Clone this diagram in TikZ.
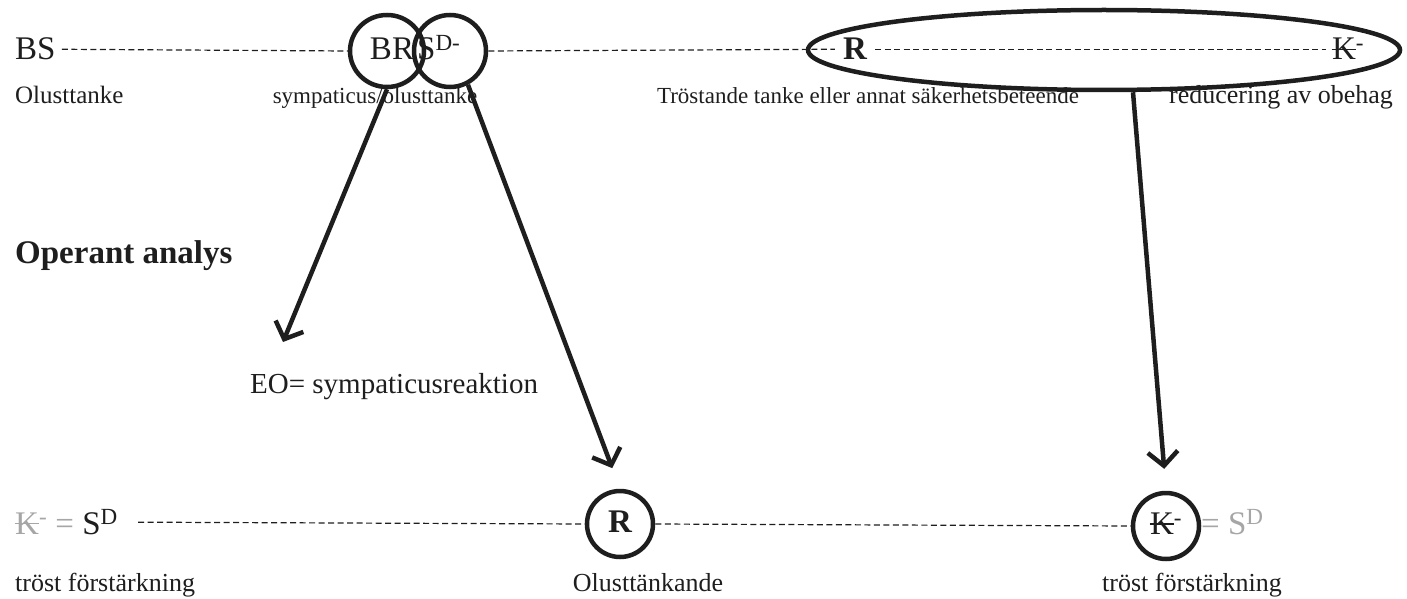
\documentclass[tikz,border=0pt]{standalone}
\usepackage{fontspec}
\setmainfont{Liberation Serif}
\usepackage{xcolor}
\usetikzlibrary{shapes.geometric, arrows.meta, positioning, calc}
\definecolor{inkdark}{HTML}{1E1E1E}
\definecolor{fadegray}{HTML}{A6A6A6}
\newcommand{\strikeK}{\ooalign{K\cr\hidewidth\rule[0.3em]{0.75em}{0.045em}\hidewidth\cr}\textsuperscript{-}}

\tikzset{
  ring/.style={draw=inkdark, line width=4.5pt, ellipse, inner sep=0pt},
  chain/.style={draw=inkdark, line width=1.2pt, dash pattern=on 6pt off 3.5pt},
  pointer/.style={draw=inkdark, line width=4.5pt, -{Straight Barb[length=14pt,width=30pt]}},
  bigtxt/.style={font=\fontsize{33}{37}\selectfont, text=inkdark, inner sep=0pt},
  smalltxt/.style={font=\fontsize{23}{27}\selectfont, text=inkdark, inner sep=0pt},
}

\begin{document}
\begin{tikzpicture}[x=1pt, y=-1pt]
    \useasboundingbox (0,0) rectangle (1407,599);

    % Top row
    \node[bigtxt, anchor=base west] (bs) at (15,60) {BS};
    \node[ring, minimum width=74pt, minimum height=72pt] (brring) at (387,51) {};
    \node[ring, minimum width=72pt, minimum height=72pt] (sdring) at (450,51) {};
    \node[bigtxt, anchor=base] (br) at (392,60) {BR};
    \node[bigtxt, anchor=base west] (sd) at (417,60) {S\textsuperscript{D-}};
    \node[ring, minimum width=592pt, minimum height=80pt] (bigell) at (1104,50) {};
    \node[bigtxt, anchor=base, font=\fontsize{33}{37}\bfseries] (rtop) at (855,60) {R};
    \node[bigtxt, anchor=base] (ktop) at (1348,60) {\strikeK};

    \draw[chain, shorten <=6pt] (bs.east) -- (brring.west);
    \draw[chain, shorten >=8pt] (sdring.east) -- (rtop.west);
    \draw[chain, shorten <=8pt, shorten >=6pt] (rtop.east) -- (ktop.west);

    % Top labels
    \node[smalltxt, anchor=base west, font=\fontsize{25}{29}\selectfont] (lbs) at (15,103) {Olusttanke};
    \node[smalltxt, anchor=base] (lbrsd) at (375,103) {sympaticus/olusttanke};
    \node[smalltxt, anchor=base] (lrtop) at (868,103) {Tröstande tanke eller annat säkerhetsbeteende};
    \node[smalltxt, anchor=base, font=\fontsize{26}{30}\selectfont] (lktop) at (1281,103) {reducering av obehag};

    \node[font=\fontsize{33}{37}\bfseries, text=inkdark, inner sep=0pt, anchor=base west] (title) at (15,263) {Operant analys};
    \node[font=\fontsize{29}{33}\selectfont, text=inkdark, inner sep=0pt, anchor=base west] (eo) at (250,393) {EO= sympaticusreaktion};

    % Bottom row
    \node[bigtxt, anchor=base west] (kfade) at (15,534) {\textcolor{fadegray}{\strikeK{} =} S\textsuperscript{D}};
    \node[ring, minimum size=66pt, circle] (rring) at (620,524) {};
    \node[bigtxt, font=\fontsize{33}{37}\bfseries] (rbot) at (620,522) {R};
    \node[ring, minimum size=66pt, circle] (kring) at (1166,526) {};
    \node[bigtxt] (kbot) at (1166,524) {\strikeK};
    \node[bigtxt, anchor=base west, text=fadegray] (sdfade) at (1201,534) {= S\textsuperscript{D}};

    \draw[chain, shorten <=20pt] (kfade.east) -- (rring.west);
    \draw[chain] (rring.east) -- (kring.west);

    % Bottom labels
    \node[smalltxt, anchor=base west, font=\fontsize{26}{30}\selectfont] (lkfade) at (15,591) {tröst förstärkning};
    \node[smalltxt, anchor=base, font=\fontsize{26}{30}\selectfont] (lrbot) at (648,591) {Olusttänkande};
    \node[smalltxt, anchor=base, font=\fontsize{26}{30}\selectfont] (lkbot) at (1192,591) {tröst förstärkning};

    % Arrows
    \coordinate (eotip) at (283,342);
    \coordinate (ellfoot) at ($(bigell.south)+(29,0)$);
    \draw[pointer] (brring.south) -- (eotip);
    \draw[pointer, shorten >=22pt] (sdring.-62) -- (rring.north);
    \draw[pointer, shorten >=22pt] (ellfoot) -- (kring.north);
\end{tikzpicture}
\end{document}
